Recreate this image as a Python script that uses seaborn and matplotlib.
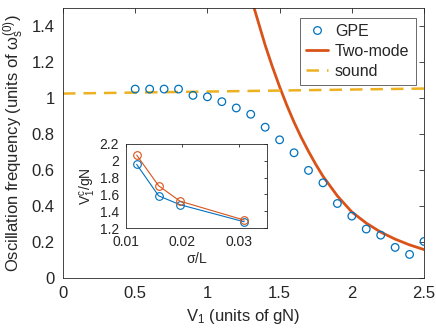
import numpy as np
import pandas as pd
import seaborn as sns
import matplotlib
matplotlib.use("Agg")
import matplotlib.pyplot as plt
from matplotlib.ticker import FormatStrFormatter
from matplotlib.lines import Line2D

# GPE data (main panel)
gpe_v1 = [0.5, 0.6, 0.7, 0.8, 0.9, 1.0, 1.1, 1.2, 1.3, 1.4, 1.5,
          1.6, 1.7, 1.8, 1.9, 2.0, 2.1, 2.2, 2.3, 2.4, 2.5]
gpe_freq = [1.05, 1.05, 1.05, 1.05, 1.015, 1.007, 0.98, 0.945, 0.91, 0.838, 0.768,
            0.696, 0.598, 0.529, 0.414, 0.344, 0.272, 0.238, 0.17, 0.131, 0.203]

# two-mode model curve
tm_v1 = [1.32, 1.40, 1.45, 1.50, 1.55, 1.60, 1.65, 1.70, 1.75, 1.80,
         1.90, 2.00, 2.10, 2.20, 2.30, 2.40, 2.50]
tm_freq = [1.51, 1.294, 1.174, 1.063, 0.960, 0.866, 0.781, 0.704, 0.632, 0.566,
           0.456, 0.367, 0.305, 0.255, 0.216, 0.184, 0.158]

# sound frequency
snd_v1 = [0.0, 1.25, 2.5]
snd_freq = [1.025, 1.039, 1.053]

# inset: critical V1 vs sigma/L
sig_L = [0.0119, 0.0158, 0.0196, 0.0310]
vc_gpe = [1.956, 1.584, 1.479, 1.277]
vc_tm = [2.066, 1.703, 1.521, 1.297]

blue = "#0072BD"
red = "#D95319"
yellow = "#EDB120"
axcol = "#262626"

sns.set_style("white")
plt.rcParams['font.family'] = ['Liberation Sans', 'DejaVu Sans']
plt.rcParams['mathtext.fontset'] = 'custom'
plt.rcParams['mathtext.rm'] = 'Liberation Sans'
plt.rcParams['mathtext.it'] = 'Liberation Sans'

fig = plt.figure(figsize=(4.36, 3.34), dpi=100)
ax = fig.add_axes([0.1445, 0.1677, 0.828, 0.808])

sns.scatterplot(x=gpe_v1, y=gpe_freq, ax=ax, marker='o', s=30,
                facecolor='none', edgecolor=blue, linewidth=0.9, zorder=3)
sns.lineplot(x=tm_v1, y=tm_freq, ax=ax, color=red, linewidth=2.0, sort=False)
sns.lineplot(x=snd_v1, y=snd_freq, ax=ax, color=yellow, linewidth=1.8,
             linestyle=(0, (5, 3.2)))

ax.set_xlim(0, 2.5)
ax.set_ylim(0, 1.5)
ax.set_xticks([0, 0.5, 1, 1.5, 2, 2.5])
ax.set_yticks([0, 0.2, 0.4, 0.6, 0.8, 1.0, 1.2, 1.4])
ax.xaxis.set_major_formatter(FormatStrFormatter('%g'))
ax.yaxis.set_major_formatter(FormatStrFormatter('%g'))
ax.tick_params(direction='in', top=True, right=True, labelsize=12,
               color=axcol, length=3.5, width=0.6, pad=6)
for sp in ax.spines.values():
    sp.set_color(axcol)
    sp.set_linewidth(0.6)
ax.set_xlabel(r'V$_1$ (units of gN)', fontsize=12, labelpad=4)
ax.set_ylabel(r'Oscillation frequency (units of $\omega_s^{(0)}$)', fontsize=12, labelpad=4)

handles = [Line2D([], [], marker='o', linestyle='none', markerfacecolor='none',
                  markeredgecolor=blue, markersize=5.5, markeredgewidth=0.9),
           Line2D([], [], color=red, linewidth=2.0),
           Line2D([], [], color=yellow, linewidth=1.8, linestyle=(0, (5, 3.2)))]
leg = ax.legend(handles, ['GPE', 'Two-mode', 'sound'], loc='upper right',
                fontsize=11.5, frameon=True, fancybox=False, borderpad=0.4,
                handlelength=1.4, handletextpad=0.4, labelspacing=0.3,
                borderaxespad=0, bbox_to_anchor=(0.977, 0.965))
leg.get_frame().set_edgecolor(axcol)
leg.get_frame().set_linewidth(0.6)

# inset
ins = fig.add_axes([0.289, 0.3165, 0.3227, 0.253])
sns.lineplot(x=sig_L, y=vc_gpe, ax=ins, color=blue, linewidth=0.8,
             marker='o', markersize=5.5, markerfacecolor='none',
             markeredgecolor=blue, markeredgewidth=0.8)
sns.lineplot(x=sig_L, y=vc_tm, ax=ins, color=red, linewidth=0.8,
             marker='o', markersize=5.5, markerfacecolor='none',
             markeredgecolor=red, markeredgewidth=0.8)
ins.set_xlim(0.01, 0.035)
ins.set_ylim(1.2, 2.2)
ins.set_xticks([0.01, 0.02, 0.03])
ins.set_yticks([1.2, 1.4, 1.6, 1.8, 2.0, 2.2])
ins.xaxis.set_major_formatter(FormatStrFormatter('%g'))
ins.yaxis.set_major_formatter(FormatStrFormatter('%g'))
ins.tick_params(direction='in', top=True, right=True, labelsize=10,
                color=axcol, length=2.5, width=0.6, pad=5)
for sp in ins.spines.values():
    sp.set_color(axcol)
    sp.set_linewidth(0.6)
ins.set_xlabel(r'$\sigma$/L', fontsize=10, labelpad=1)
ins.set_ylabel(r'V$_1^c$/gN', fontsize=10, labelpad=1)

fig.savefig('out.png', dpi=100)
